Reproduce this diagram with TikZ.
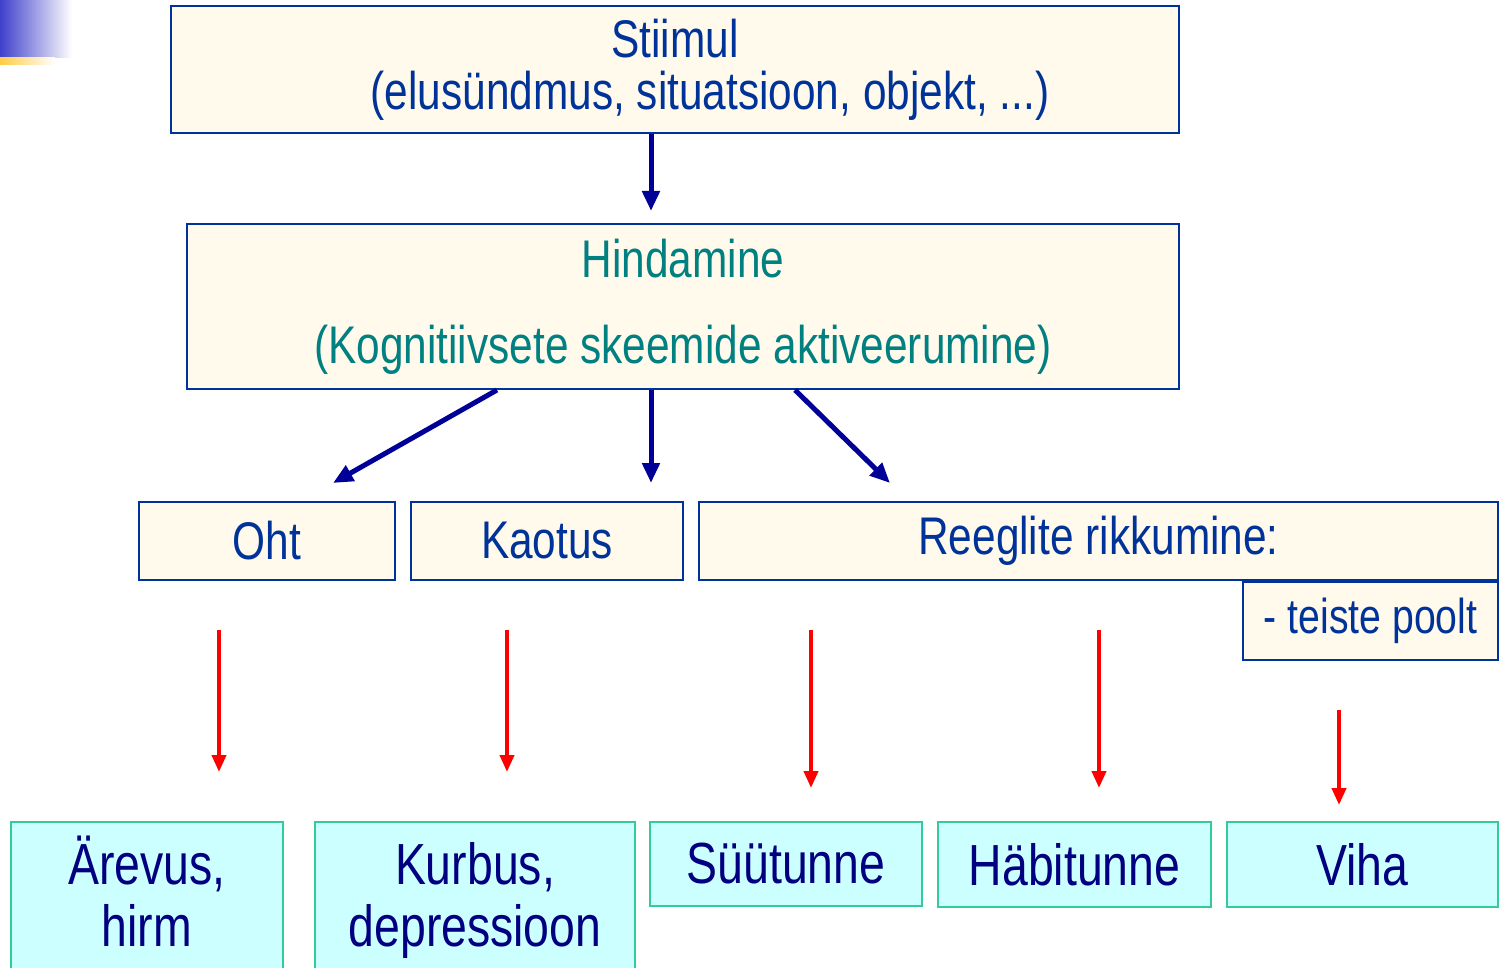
\documentclass[tikz,border=0pt]{standalone}
\usepackage{fontspec}
\setmainfont{Liberation Sans}[FakeStretch=0.8]
\usetikzlibrary{arrows.meta}
\definecolor{cream}{HTML}{FFFAEC}
\definecolor{boxblue}{HTML}{003399}
\definecolor{arrowblue}{HTML}{000099}
\definecolor{tealtext}{HTML}{008080}
\definecolor{cyanfill}{HTML}{CCFFFF}
\definecolor{greenline}{HTML}{33CC99}
\definecolor{darknavy}{HTML}{000080}
\definecolor{slideblue}{HTML}{4040CC}
\definecolor{slideyellow}{HTML}{FFCC44}

\begin{document}
\begin{tikzpicture}[x=1pt,y=-1pt,
  appraisal/.style={draw=boxblue,line width=2pt,fill=cream,inner sep=0pt,align=center,text=boxblue},
  emotion/.style={draw=greenline,line width=2pt,fill=cyanfill,inner sep=0pt,align=center,
    text=darknavy,font=\fontsize{58}{62}\selectfont},
  blue arrow/.style={draw=arrowblue,line width=5pt,-{Triangle[length=20pt,width=17pt]}},
  red arrow/.style={draw=red,line width=4pt,-{Triangle[length=17pt,width=14pt]}}]
  \useasboundingbox (0,0) rectangle (1499,968);
  % slide corner
  \shade[left color=slideblue,right color=white] (0,0) rectangle (72,58);
  \shade[left color=slideyellow,right color=white] (0,58) rectangle (55,65);

  % appraisal chain
  \node[appraisal,minimum width=1008pt,minimum height=127pt,font=\fontsize{53}{52}\selectfont]
    (stiimul) at (675,69.5) {Stiimul\\\hspace*{70pt}(elusündmus, situatsioon, objekt, ...)};
  \node[appraisal,minimum width=992pt,minimum height=165pt,text=tealtext,font=\fontsize{53}{86}\selectfont]
    (hindamine) at (683,306.5) {Hindamine\\(Kognitiivsete skeemide aktiveerumine)};
  \node[appraisal,minimum width=256pt,minimum height=78pt,font=\fontsize{53}{60}\selectfont]
    (oht) at (267,541) {Oht};
  \node[appraisal,minimum width=272pt,minimum height=78pt,font=\fontsize{53}{60}\selectfont]
    (kaotus) at (547,541) {Kaotus};
  \node[appraisal,minimum width=799pt,minimum height=78pt,font=\fontsize{53}{60}\selectfont]
    (reeglid) at (1098.5,541) {Reeglite rikkumine:};
  \node[appraisal,minimum width=255pt,minimum height=78pt,font=\fontsize{49}{56}\selectfont]
    (teised) at (1370.5,621) {- teiste poolt};

  \draw[blue arrow,shorten >=12pt] ([xshift=-24pt]stiimul.south) -- ([xshift=-32pt]hindamine.north);
  \draw[blue arrow] ([xshift=-186pt]hindamine.south) -- ([xshift=66pt,yshift=18pt]oht.north);
  \draw[blue arrow] ([xshift=-32pt]hindamine.south) -- ([xshift=104pt,yshift=18pt]kaotus.north);
  \draw[blue arrow] ([xshift=112pt]hindamine.south) -- ([xshift=-208.5pt,yshift=18pt]reeglid.north);

  % emotions
  \node[emotion,minimum width=272pt,minimum height=150pt] (arevus) at (147,897) {Ärevus,\\hirm\vphantom{p}};
  \node[emotion,minimum width=320pt,minimum height=150pt] (kurbus) at (475,897) {\vphantom{Ä}Kurbus,\\depressioon};
  \node[emotion,minimum width=272pt,minimum height=84pt] (syytunne) at (786,864) {Süütunne};
  \node[emotion,minimum width=273pt,minimum height=85pt] (habitunne) at (1074.5,864.5) {Häbitunne};
  \node[emotion,minimum width=271pt,minimum height=85pt] (viha) at (1362.5,864.5) {Viha};

  \coordinate (r1s) at (219,630);  \coordinate (r1e) at (219,772);
  \coordinate (r2s) at (507,630);  \coordinate (r2e) at (507,772);
  \coordinate (r3s) at (811,630);  \coordinate (r3e) at (811,788);
  \coordinate (r4s) at (1099,630); \coordinate (r4e) at (1099,788);
  \coordinate (r5s) at (1339,710); \coordinate (r5e) at (1339,805);
  \foreach \i in {1,...,5}
    \draw[red arrow] (r\i s) -- (r\i e);
\end{tikzpicture}
\end{document}
